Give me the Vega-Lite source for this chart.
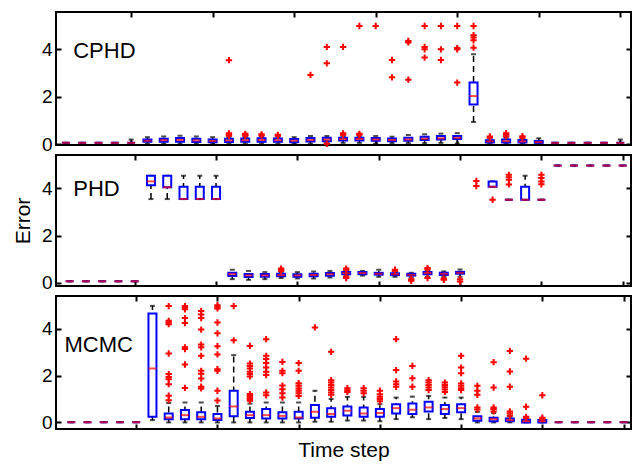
{
"$schema": "https://vega.github.io/schema/vega-lite/v6.json",
"padding": {"left": 11, "top": 10, "right": 4, "bottom": 4},
"spacing": 10,
"bounds": "flush",
"datasets": {
"stats": [
{"m":"CPHD","s":1,"lo":0.06,"q1":0.06,"md":0.06,"q3":0.06,"hi":0.06},
{"m":"CPHD","s":2,"lo":0.06,"q1":0.06,"md":0.06,"q3":0.06,"hi":0.06},
{"m":"CPHD","s":3,"lo":0.06,"q1":0.06,"md":0.06,"q3":0.06,"hi":0.06},
{"m":"CPHD","s":4,"lo":0.06,"q1":0.06,"md":0.06,"q3":0.06,"hi":0.06},
{"m":"CPHD","s":5,"lo":0.04,"q1":0.06,"md":0.06,"q3":0.06,"hi":0.2},
{"m":"CPHD","s":6,"lo":0.03,"q1":0.11,"md":0.15,"q3":0.2,"hi":0.3},
{"m":"CPHD","s":7,"lo":0.03,"q1":0.11,"md":0.17,"q3":0.23,"hi":0.33},
{"m":"CPHD","s":8,"lo":0.03,"q1":0.11,"md":0.18,"q3":0.26,"hi":0.36},
{"m":"CPHD","s":9,"lo":0.03,"q1":0.1,"md":0.16,"q3":0.23,"hi":0.33},
{"m":"CPHD","s":10,"lo":0.03,"q1":0.09,"md":0.14,"q3":0.2,"hi":0.3},
{"m":"CPHD","s":11,"lo":0.04,"q1":0.1,"md":0.16,"q3":0.23,"hi":0.3},
{"m":"CPHD","s":12,"lo":0.04,"q1":0.11,"md":0.17,"q3":0.24,"hi":0.3},
{"m":"CPHD","s":13,"lo":0.04,"q1":0.11,"md":0.18,"q3":0.25,"hi":0.31},
{"m":"CPHD","s":14,"lo":0.04,"q1":0.11,"md":0.17,"q3":0.24,"hi":0.3},
{"m":"CPHD","s":15,"lo":0.03,"q1":0.09,"md":0.15,"q3":0.22,"hi":0.3},
{"m":"CPHD","s":16,"lo":0.03,"q1":0.12,"md":0.18,"q3":0.26,"hi":0.35},
{"m":"CPHD","s":17,"lo":0.06,"q1":0.13,"md":0.2,"q3":0.28,"hi":0.35},
{"m":"CPHD","s":18,"lo":0.06,"q1":0.16,"md":0.22,"q3":0.28,"hi":0.35},
{"m":"CPHD","s":19,"lo":0.06,"q1":0.16,"md":0.22,"q3":0.28,"hi":0.35},
{"m":"CPHD","s":20,"lo":0.03,"q1":0.15,"md":0.2,"q3":0.27,"hi":0.35},
{"m":"CPHD","s":21,"lo":0.05,"q1":0.13,"md":0.18,"q3":0.24,"hi":0.32},
{"m":"CPHD","s":22,"lo":0.05,"q1":0.15,"md":0.2,"q3":0.28,"hi":0.39},
{"m":"CPHD","s":23,"lo":0.05,"q1":0.18,"md":0.23,"q3":0.32,"hi":0.42},
{"m":"CPHD","s":24,"lo":0.06,"q1":0.2,"md":0.25,"q3":0.35,"hi":0.45},
{"m":"CPHD","s":25,"lo":0.03,"q1":0.22,"md":0.27,"q3":0.35,"hi":0.47},
{"m":"CPHD","s":26,"lo":0.94,"q1":1.68,"md":2.03,"q3":2.6,"hi":3.79},
{"m":"CPHD","s":27,"lo":0.03,"q1":0.08,"md":0.12,"q3":0.17,"hi":0.24},
{"m":"CPHD","s":28,"lo":0.03,"q1":0.08,"md":0.13,"q3":0.2,"hi":0.28},
{"m":"CPHD","s":29,"lo":0.03,"q1":0.08,"md":0.12,"q3":0.18,"hi":0.25},
{"m":"CPHD","s":30,"lo":0.02,"q1":0.06,"md":0.09,"q3":0.14,"hi":0.25},
{"m":"CPHD","s":31,"lo":0.06,"q1":0.06,"md":0.06,"q3":0.06,"hi":0.06},
{"m":"CPHD","s":32,"lo":0.06,"q1":0.06,"md":0.06,"q3":0.06,"hi":0.06},
{"m":"CPHD","s":33,"lo":0.06,"q1":0.06,"md":0.06,"q3":0.06,"hi":0.06},
{"m":"CPHD","s":34,"lo":0.06,"q1":0.06,"md":0.06,"q3":0.06,"hi":0.06},
{"m":"CPHD","s":35,"lo":0.04,"q1":0.06,"md":0.06,"q3":0.06,"hi":0.2},
{"m":"PHD","s":1,"lo":0.06,"q1":0.06,"md":0.06,"q3":0.06,"hi":0.06},
{"m":"PHD","s":2,"lo":0.06,"q1":0.06,"md":0.06,"q3":0.06,"hi":0.06},
{"m":"PHD","s":3,"lo":0.06,"q1":0.06,"md":0.06,"q3":0.06,"hi":0.06},
{"m":"PHD","s":4,"lo":0.06,"q1":0.06,"md":0.06,"q3":0.06,"hi":0.06},
{"m":"PHD","s":5,"lo":0.06,"q1":0.06,"md":0.06,"q3":0.06,"hi":0.06},
{"m":"PHD","s":6,"lo":3.55,"q1":4.14,"md":4.3,"q3":4.54,"hi":4.54},
{"m":"PHD","s":7,"lo":3.55,"q1":4.05,"md":4.05,"q3":4.54,"hi":4.54},
{"m":"PHD","s":8,"lo":3.55,"q1":3.55,"md":3.55,"q3":4.07,"hi":4.54},
{"m":"PHD","s":9,"lo":3.55,"q1":3.55,"md":3.55,"q3":4.07,"hi":4.54},
{"m":"PHD","s":10,"lo":3.55,"q1":3.55,"md":3.55,"q3":4.07,"hi":4.54},
{"m":"PHD","s":11,"lo":0.15,"q1":0.28,"md":0.36,"q3":0.42,"hi":0.55},
{"m":"PHD","s":12,"lo":0.12,"q1":0.24,"md":0.31,"q3":0.37,"hi":0.5},
{"m":"PHD","s":13,"lo":0.15,"q1":0.25,"md":0.31,"q3":0.37,"hi":0.45},
{"m":"PHD","s":14,"lo":0.2,"q1":0.27,"md":0.32,"q3":0.38,"hi":0.45},
{"m":"PHD","s":15,"lo":0.18,"q1":0.25,"md":0.31,"q3":0.36,"hi":0.45},
{"m":"PHD","s":16,"lo":0.18,"q1":0.27,"md":0.33,"q3":0.38,"hi":0.48},
{"m":"PHD","s":17,"lo":0.22,"q1":0.3,"md":0.36,"q3":0.41,"hi":0.5},
{"m":"PHD","s":18,"lo":0.3,"q1":0.36,"md":0.41,"q3":0.45,"hi":0.5},
{"m":"PHD","s":19,"lo":0.3,"q1":0.36,"md":0.41,"q3":0.45,"hi":0.5},
{"m":"PHD","s":20,"lo":0.25,"q1":0.34,"md":0.38,"q3":0.42,"hi":0.55},
{"m":"PHD","s":21,"lo":0.25,"q1":0.32,"md":0.36,"q3":0.4,"hi":0.45},
{"m":"PHD","s":22,"lo":0.22,"q1":0.3,"md":0.33,"q3":0.38,"hi":0.42},
{"m":"PHD","s":23,"lo":0.25,"q1":0.36,"md":0.41,"q3":0.45,"hi":0.5},
{"m":"PHD","s":24,"lo":0.25,"q1":0.33,"md":0.38,"q3":0.42,"hi":0.48},
{"m":"PHD","s":25,"lo":0.25,"q1":0.38,"md":0.42,"q3":0.46,"hi":0.56},
{"m":"PHD","s":27,"lo":4.07,"q1":4.07,"md":4.07,"q3":4.3,"hi":4.3},
{"m":"PHD","s":28,"lo":3.52,"q1":3.52,"md":3.52,"q3":3.52,"hi":3.52},
{"m":"PHD","s":29,"lo":3.52,"q1":3.52,"md":3.52,"q3":4.07,"hi":4.54},
{"m":"PHD","s":30,"lo":3.52,"q1":3.52,"md":3.52,"q3":3.52,"hi":3.52},
{"m":"PHD","s":31,"lo":4.97,"q1":4.97,"md":4.97,"q3":4.97,"hi":4.97},
{"m":"PHD","s":32,"lo":4.97,"q1":4.97,"md":4.97,"q3":4.97,"hi":4.97},
{"m":"PHD","s":33,"lo":4.97,"q1":4.97,"md":4.97,"q3":4.97,"hi":4.97},
{"m":"PHD","s":34,"lo":4.97,"q1":4.97,"md":4.97,"q3":4.97,"hi":4.97},
{"m":"PHD","s":35,"lo":4.97,"q1":4.97,"md":4.97,"q3":4.97,"hi":4.97},
{"m":"MCMC","s":1,"lo":0.01,"q1":0.01,"md":0.01,"q3":0.01,"hi":0.01},
{"m":"MCMC","s":2,"lo":0.01,"q1":0.01,"md":0.01,"q3":0.01,"hi":0.01},
{"m":"MCMC","s":3,"lo":0.01,"q1":0.01,"md":0.01,"q3":0.01,"hi":0.01},
{"m":"MCMC","s":4,"lo":0.01,"q1":0.01,"md":0.01,"q3":0.01,"hi":0.01},
{"m":"MCMC","s":5,"lo":0.01,"q1":0.01,"md":0.01,"q3":0.01,"hi":0.01},
{"m":"MCMC","s":6,"lo":0.1,"q1":0.24,"md":2.3,"q3":4.64,"hi":4.97},
{"m":"MCMC","s":7,"lo":0.0,"q1":0.14,"md":0.21,"q3":0.38,"hi":0.83},
{"m":"MCMC","s":8,"lo":0.0,"q1":0.14,"md":0.31,"q3":0.53,"hi":0.85},
{"m":"MCMC","s":9,"lo":0.0,"q1":0.14,"md":0.24,"q3":0.43,"hi":0.85},
{"m":"MCMC","s":10,"lo":0.0,"q1":0.1,"md":0.17,"q3":0.36,"hi":0.7},
{"m":"MCMC","s":11,"lo":0.0,"q1":0.26,"md":0.68,"q3":1.35,"hi":2.87},
{"m":"MCMC","s":12,"lo":0.0,"q1":0.19,"md":0.31,"q3":0.46,"hi":0.8},
{"m":"MCMC","s":13,"lo":0.0,"q1":0.17,"md":0.31,"q3":0.57,"hi":0.85},
{"m":"MCMC","s":14,"lo":0.0,"q1":0.17,"md":0.28,"q3":0.43,"hi":0.85},
{"m":"MCMC","s":15,"lo":0.0,"q1":0.17,"md":0.21,"q3":0.46,"hi":0.85},
{"m":"MCMC","s":16,"lo":0.03,"q1":0.2,"md":0.46,"q3":0.74,"hi":1.35},
{"m":"MCMC","s":17,"lo":0.03,"q1":0.24,"md":0.36,"q3":0.6,"hi":1.0},
{"m":"MCMC","s":18,"lo":0.08,"q1":0.3,"md":0.5,"q3":0.68,"hi":1.09},
{"m":"MCMC","s":19,"lo":0.08,"q1":0.24,"md":0.38,"q3":0.64,"hi":1.09},
{"m":"MCMC","s":20,"lo":0.05,"q1":0.24,"md":0.4,"q3":0.57,"hi":0.78},
{"m":"MCMC","s":21,"lo":0.14,"q1":0.38,"md":0.61,"q3":0.78,"hi":1.06},
{"m":"MCMC","s":22,"lo":0.22,"q1":0.36,"md":0.54,"q3":0.81,"hi":1.1},
{"m":"MCMC","s":23,"lo":0.14,"q1":0.47,"md":0.64,"q3":0.88,"hi":1.13},
{"m":"MCMC","s":24,"lo":0.19,"q1":0.36,"md":0.57,"q3":0.74,"hi":1.06},
{"m":"MCMC","s":25,"lo":0.14,"q1":0.43,"md":0.61,"q3":0.78,"hi":1.06},
{"m":"MCMC","s":26,"lo":0.0,"q1":0.07,"md":0.17,"q3":0.26,"hi":0.45},
{"m":"MCMC","s":27,"lo":0.0,"q1":0.05,"md":0.14,"q3":0.2,"hi":0.4},
{"m":"MCMC","s":28,"lo":0.0,"q1":0.05,"md":0.1,"q3":0.17,"hi":0.25},
{"m":"MCMC","s":29,"lo":0.0,"q1":0.0,"md":0.05,"q3":0.11,"hi":0.15},
{"m":"MCMC","s":30,"lo":0.0,"q1":0.0,"md":0.05,"q3":0.1,"hi":0.12},
{"m":"MCMC","s":31,"lo":0.01,"q1":0.01,"md":0.01,"q3":0.01,"hi":0.01},
{"m":"MCMC","s":32,"lo":0.01,"q1":0.01,"md":0.01,"q3":0.01,"hi":0.01},
{"m":"MCMC","s":33,"lo":0.01,"q1":0.01,"md":0.01,"q3":0.01,"hi":0.01},
{"m":"MCMC","s":34,"lo":0.01,"q1":0.01,"md":0.01,"q3":0.01,"hi":0.01},
{"m":"MCMC","s":35,"lo":0.01,"q1":0.01,"md":0.01,"q3":0.01,"hi":0.01}
],
"out": [
{"m":"CPHD","s":11,"v":3.54},{"m":"CPHD","s":11,"v":0.36},{"m":"CPHD","s":11,"v":0.41},{"m":"CPHD","s":11,"v":0.46},
{"m":"CPHD","s":12,"v":0.36},{"m":"CPHD","s":12,"v":0.4},{"m":"CPHD","s":12,"v":0.44},
{"m":"CPHD","s":13,"v":0.37},{"m":"CPHD","s":13,"v":0.42},
{"m":"CPHD","s":14,"v":0.36},{"m":"CPHD","s":14,"v":0.4},
{"m":"CPHD","s":16,"v":2.92},
{"m":"CPHD","s":17,"v":4.1},{"m":"CPHD","s":17,"v":3.41},{"m":"CPHD","s":17,"v":0.02},
{"m":"CPHD","s":18,"v":4.1},{"m":"CPHD","s":18,"v":0.4},{"m":"CPHD","s":18,"v":0.46},
{"m":"CPHD","s":19,"v":4.98},{"m":"CPHD","s":19,"v":0.4},{"m":"CPHD","s":19,"v":0.44},
{"m":"CPHD","s":20,"v":4.98},
{"m":"CPHD","s":21,"v":3.55},{"m":"CPHD","s":21,"v":2.82},
{"m":"CPHD","s":22,"v":4.35},{"m":"CPHD","s":22,"v":4.29},{"m":"CPHD","s":22,"v":2.72},
{"m":"CPHD","s":23,"v":4.98},{"m":"CPHD","s":23,"v":4.1},{"m":"CPHD","s":23,"v":4.0},{"m":"CPHD","s":23,"v":3.65},
{"m":"CPHD","s":24,"v":4.98},{"m":"CPHD","s":24,"v":4.0},{"m":"CPHD","s":24,"v":3.55},
{"m":"CPHD","s":25,"v":4.98},{"m":"CPHD","s":25,"v":4.05},{"m":"CPHD","s":25,"v":4.0},{"m":"CPHD","s":25,"v":2.6},
{"m":"CPHD","s":26,"v":4.98},{"m":"CPHD","s":26,"v":4.59},{"m":"CPHD","s":26,"v":4.5},{"m":"CPHD","s":26,"v":4.38},{"m":"CPHD","s":26,"v":4.07},
{"m":"CPHD","s":27,"v":0.28},{"m":"CPHD","s":27,"v":0.33},
{"m":"CPHD","s":28,"v":0.33},{"m":"CPHD","s":28,"v":0.4},{"m":"CPHD","s":28,"v":0.47},
{"m":"CPHD","s":29,"v":0.28},{"m":"CPHD","s":29,"v":0.34},
{"m":"PHD","s":14,"v":0.5},{"m":"PHD","s":14,"v":0.55},{"m":"PHD","s":14,"v":0.6},
{"m":"PHD","s":18,"v":0.55},{"m":"PHD","s":18,"v":0.6},{"m":"PHD","s":18,"v":0.25},{"m":"PHD","s":18,"v":0.2},
{"m":"PHD","s":21,"v":0.5},{"m":"PHD","s":21,"v":0.55},
{"m":"PHD","s":22,"v":0.15},{"m":"PHD","s":22,"v":0.08},
{"m":"PHD","s":23,"v":0.56},{"m":"PHD","s":23,"v":0.62},{"m":"PHD","s":23,"v":0.2},
{"m":"PHD","s":24,"v":0.18},{"m":"PHD","s":24,"v":0.12},
{"m":"PHD","s":25,"v":0.15},{"m":"PHD","s":25,"v":0.05},
{"m":"PHD","s":26,"v":4.32},{"m":"PHD","s":26,"v":4.1},
{"m":"PHD","s":27,"v":3.52},
{"m":"PHD","s":28,"v":4.58},{"m":"PHD","s":28,"v":4.48},{"m":"PHD","s":28,"v":4.37},{"m":"PHD","s":28,"v":4.17},
{"m":"PHD","s":30,"v":4.58},{"m":"PHD","s":30,"v":4.44},{"m":"PHD","s":30,"v":4.3},{"m":"PHD","s":30,"v":4.18},
{"m":"MCMC","s":7,"v":4.96},{"m":"MCMC","s":7,"v":4.33},{"m":"MCMC","s":7,"v":4.26},{"m":"MCMC","s":7,"v":4.19},{"m":"MCMC","s":7,"v":2.94},{"m":"MCMC","s":7,"v":2.06},{"m":"MCMC","s":7,"v":1.94},{"m":"MCMC","s":7,"v":1.84},{"m":"MCMC","s":7,"v":1.63},{"m":"MCMC","s":7,"v":1.14},{"m":"MCMC","s":7,"v":0.95},
{"m":"MCMC","s":8,"v":4.96},{"m":"MCMC","s":8,"v":4.9},{"m":"MCMC","s":8,"v":4.82},{"m":"MCMC","s":8,"v":4.45},{"m":"MCMC","s":8,"v":4.24},{"m":"MCMC","s":8,"v":3.2},{"m":"MCMC","s":8,"v":3.13},{"m":"MCMC","s":8,"v":2.47},{"m":"MCMC","s":8,"v":1.47},
{"m":"MCMC","s":9,"v":4.75},{"m":"MCMC","s":9,"v":4.6},{"m":"MCMC","s":9,"v":4.45},{"m":"MCMC","s":9,"v":3.96},{"m":"MCMC","s":9,"v":3.32},{"m":"MCMC","s":9,"v":3.2},{"m":"MCMC","s":9,"v":2.84},{"m":"MCMC","s":9,"v":2.2},{"m":"MCMC","s":9,"v":2.08},{"m":"MCMC","s":9,"v":1.87},{"m":"MCMC","s":9,"v":1.52},{"m":"MCMC","s":9,"v":1.45},
{"m":"MCMC","s":10,"v":5.0},{"m":"MCMC","s":10,"v":4.93},{"m":"MCMC","s":10,"v":4.86},{"m":"MCMC","s":10,"v":4.26},{"m":"MCMC","s":10,"v":3.8},{"m":"MCMC","s":10,"v":3.25},{"m":"MCMC","s":10,"v":2.9},{"m":"MCMC","s":10,"v":2.27},{"m":"MCMC","s":10,"v":2.2},{"m":"MCMC","s":10,"v":1.35},{"m":"MCMC","s":10,"v":0.93},
{"m":"MCMC","s":11,"v":4.96},{"m":"MCMC","s":11,"v":3.5},
{"m":"MCMC","s":12,"v":3.26},{"m":"MCMC","s":12,"v":2.51},{"m":"MCMC","s":12,"v":2.41},{"m":"MCMC","s":12,"v":2.3},{"m":"MCMC","s":12,"v":2.16},{"m":"MCMC","s":12,"v":2.06},{"m":"MCMC","s":12,"v":1.96},{"m":"MCMC","s":12,"v":1.21},{"m":"MCMC","s":12,"v":1.14},{"m":"MCMC","s":12,"v":1.07},{"m":"MCMC","s":12,"v":1.0},{"m":"MCMC","s":12,"v":0.92},
{"m":"MCMC","s":13,"v":3.55},{"m":"MCMC","s":13,"v":2.84},{"m":"MCMC","s":13,"v":2.7},{"m":"MCMC","s":13,"v":2.53},{"m":"MCMC","s":13,"v":2.34},{"m":"MCMC","s":13,"v":2.16},{"m":"MCMC","s":13,"v":2.02},{"m":"MCMC","s":13,"v":1.28},{"m":"MCMC","s":13,"v":1.16},
{"m":"MCMC","s":14,"v":2.58},{"m":"MCMC","s":14,"v":2.2},{"m":"MCMC","s":14,"v":2.1},{"m":"MCMC","s":14,"v":1.57},{"m":"MCMC","s":14,"v":1.41},{"m":"MCMC","s":14,"v":1.24},{"m":"MCMC","s":14,"v":1.06},
{"m":"MCMC","s":15,"v":2.53},{"m":"MCMC","s":15,"v":2.2},{"m":"MCMC","s":15,"v":1.67},{"m":"MCMC","s":15,"v":1.56},{"m":"MCMC","s":15,"v":1.45},{"m":"MCMC","s":15,"v":1.35},{"m":"MCMC","s":15,"v":1.24},{"m":"MCMC","s":15,"v":1.13},
{"m":"MCMC","s":16,"v":4.05},
{"m":"MCMC","s":17,"v":3.01},{"m":"MCMC","s":17,"v":1.8},{"m":"MCMC","s":17,"v":1.7},{"m":"MCMC","s":17,"v":1.6},{"m":"MCMC","s":17,"v":1.49},{"m":"MCMC","s":17,"v":1.38},{"m":"MCMC","s":17,"v":1.28},{"m":"MCMC","s":17,"v":1.18},
{"m":"MCMC","s":18,"v":1.46},{"m":"MCMC","s":18,"v":1.37},{"m":"MCMC","s":18,"v":1.3},
{"m":"MCMC","s":19,"v":1.46},{"m":"MCMC","s":19,"v":1.35},{"m":"MCMC","s":19,"v":1.24},
{"m":"MCMC","s":20,"v":1.35},{"m":"MCMC","s":20,"v":1.2},{"m":"MCMC","s":20,"v":1.1},{"m":"MCMC","s":20,"v":1.0},{"m":"MCMC","s":20,"v":0.9},
{"m":"MCMC","s":21,"v":3.55},{"m":"MCMC","s":21,"v":2.23},{"m":"MCMC","s":21,"v":1.75},{"m":"MCMC","s":21,"v":1.63},{"m":"MCMC","s":21,"v":1.52},
{"m":"MCMC","s":22,"v":2.41},{"m":"MCMC","s":22,"v":1.88},{"m":"MCMC","s":22,"v":1.52},
{"m":"MCMC","s":23,"v":1.8},{"m":"MCMC","s":23,"v":1.7},{"m":"MCMC","s":23,"v":1.6},{"m":"MCMC","s":23,"v":1.49},{"m":"MCMC","s":23,"v":1.38},
{"m":"MCMC","s":24,"v":1.7},{"m":"MCMC","s":24,"v":1.6},{"m":"MCMC","s":24,"v":1.5},{"m":"MCMC","s":24,"v":1.4},{"m":"MCMC","s":24,"v":1.3},
{"m":"MCMC","s":25,"v":2.84},{"m":"MCMC","s":25,"v":2.34},{"m":"MCMC","s":25,"v":2.1},{"m":"MCMC","s":25,"v":1.66},{"m":"MCMC","s":25,"v":1.56},{"m":"MCMC","s":25,"v":1.46},{"m":"MCMC","s":25,"v":1.38},
{"m":"MCMC","s":26,"v":1.56},{"m":"MCMC","s":26,"v":1.35},{"m":"MCMC","s":26,"v":1.18},{"m":"MCMC","s":26,"v":0.64},{"m":"MCMC","s":26,"v":0.55},
{"m":"MCMC","s":27,"v":2.57},{"m":"MCMC","s":27,"v":1.49},{"m":"MCMC","s":27,"v":0.64},{"m":"MCMC","s":27,"v":0.57},{"m":"MCMC","s":27,"v":0.47},
{"m":"MCMC","s":28,"v":3.05},{"m":"MCMC","s":28,"v":2.17},{"m":"MCMC","s":28,"v":1.52},{"m":"MCMC","s":28,"v":0.47},{"m":"MCMC","s":28,"v":0.38},{"m":"MCMC","s":28,"v":0.28},
{"m":"MCMC","s":29,"v":2.72},{"m":"MCMC","s":29,"v":0.67},{"m":"MCMC","s":29,"v":0.24},{"m":"MCMC","s":29,"v":0.19},
{"m":"MCMC","s":30,"v":1.16},{"m":"MCMC","s":30,"v":0.2},{"m":"MCMC","s":30,"v":0.14}
]
},
"vconcat": [
{
"width": 575, "height": 133,
"layer": [
{"data": {"name": "stats"}, "transform": [{"filter": "datum.m == 'CPHD'"}],
 "mark": {"type": "rule", "color": "black", "strokeWidth": 1.5, "strokeDash": [6, 4]},
 "encoding": {
  "x": {"field": "s", "type": "quantitative", "scale": {"domain": [0.7, 35.35], "nice": false, "zero": false}, "axis": {"orient": "bottom", "values": [5,10,15,20,25,30,35], "labels": false, "tickSize": -5, "title": null}},
  "y": {"field": "lo", "type": "quantitative", "scale": {"domain": [-0.03, 5.57], "nice": false, "zero": false}, "axis": {"orient": "left", "values": [0,2,4], "tickSize": -5, "labelPadding": 9, "title": null}},
  "y2": {"field": "hi"}}},
{"data": {"name": "stats"}, "transform": [{"filter": "datum.m == 'CPHD'"}],
 "mark": {"type": "tick", "orient": "horizontal", "size": 5, "thickness": 2, "color": "black"},
 "encoding": {"x": {"field": "s", "type": "quantitative", "axis": null}, "y": {"field": "lo", "type": "quantitative", "axis": null}}},
{"data": {"name": "stats"}, "transform": [{"filter": "datum.m == 'CPHD'"}],
 "mark": {"type": "tick", "orient": "horizontal", "size": 5, "thickness": 2, "color": "black"},
 "encoding": {"x": {"field": "s", "type": "quantitative", "axis": null}, "y": {"field": "hi", "type": "quantitative", "axis": null}}},
{"data": {"name": "stats"}, "transform": [{"filter": "datum.m == 'CPHD'"}],
 "mark": {"type": "bar", "width": 8, "fill": "white", "stroke": "#0000ff", "strokeWidth": 2},
 "encoding": {
  "x": {"field": "s", "type": "quantitative", "axis": {"orient": "top", "values": [5,10,15,20,25,30,35], "labels": false, "tickSize": -5, "title": null}},
  "y": {"field": "q1", "type": "quantitative", "axis": {"orient": "right", "values": [0,2,4], "labels": false, "tickSize": -5, "title": null}},
  "y2": {"field": "q3"}}},
{"data": {"name": "stats"}, "transform": [{"filter": "datum.m == 'CPHD'"}],
 "mark": {"type": "tick", "orient": "horizontal", "size": 8, "thickness": 2, "color": "#ff0000"},
 "encoding": {"x": {"field": "s", "type": "quantitative", "axis": null}, "y": {"field": "md", "type": "quantitative", "axis": null}}},
{"data": {"name": "out"}, "transform": [{"filter": "datum.m == 'CPHD'"}],
 "mark": {"type": "point", "shape": "M-1,0L1,0M0,-1L0,1", "size": 40, "filled": false, "stroke": "#ff0000", "strokeWidth": 2, "opacity": 1},
 "encoding": {"x": {"field": "s", "type": "quantitative", "axis": null}, "y": {"field": "v", "type": "quantitative", "axis": null}}},
{"data": {"values": [{}]},
 "mark": {"type": "text", "align": "left", "baseline": "middle", "fontSize": 22, "font": "Liberation Sans", "color": "black"},
 "encoding": {"x": {"datum": 1.45, "type": "quantitative", "axis": null}, "y": {"datum": 3.93, "type": "quantitative", "axis": null}, "text": {"value": "CPHD"}}}
],
"resolve": {"axis": {"x": "independent", "y": "independent"}}
},
{
"width": 575, "height": 131,
"layer": [
{"data": {"name": "stats"}, "transform": [{"filter": "datum.m == 'PHD'"}],
 "mark": {"type": "rule", "color": "black", "strokeWidth": 1.5, "strokeDash": [6, 4]},
 "encoding": {
  "x": {"field": "s", "type": "quantitative", "scale": {"domain": [0.47, 35.2], "nice": false, "zero": false}, "axis": {"orient": "bottom", "values": [5,10,15,20,25,30,35], "labels": false, "tickSize": -5, "title": null}},
  "y": {"field": "lo", "type": "quantitative", "scale": {"domain": [-0.14, 5.42], "nice": false, "zero": false}, "axis": {"orient": "left", "values": [0,2,4], "tickSize": -5, "labelPadding": 9, "title": "Error", "titlePadding": 8}},
  "y2": {"field": "hi"}}},
{"data": {"name": "stats"}, "transform": [{"filter": "datum.m == 'PHD'"}],
 "mark": {"type": "tick", "orient": "horizontal", "size": 5, "thickness": 2, "color": "black"},
 "encoding": {"x": {"field": "s", "type": "quantitative", "axis": null}, "y": {"field": "lo", "type": "quantitative", "axis": null}}},
{"data": {"name": "stats"}, "transform": [{"filter": "datum.m == 'PHD'"}],
 "mark": {"type": "tick", "orient": "horizontal", "size": 5, "thickness": 2, "color": "black"},
 "encoding": {"x": {"field": "s", "type": "quantitative", "axis": null}, "y": {"field": "hi", "type": "quantitative", "axis": null}}},
{"data": {"name": "stats"}, "transform": [{"filter": "datum.m == 'PHD'"}],
 "mark": {"type": "bar", "width": 8, "fill": "white", "stroke": "#0000ff", "strokeWidth": 2},
 "encoding": {
  "x": {"field": "s", "type": "quantitative", "axis": {"orient": "top", "values": [5,10,15,20,25,30,35], "labels": false, "tickSize": -5, "title": null}},
  "y": {"field": "q1", "type": "quantitative", "axis": {"orient": "right", "values": [0,2,4], "labels": false, "tickSize": -5, "title": null}},
  "y2": {"field": "q3"}}},
{"data": {"name": "stats"}, "transform": [{"filter": "datum.m == 'PHD'"}],
 "mark": {"type": "tick", "orient": "horizontal", "size": 8, "thickness": 2, "color": "#ff0000"},
 "encoding": {"x": {"field": "s", "type": "quantitative", "axis": null}, "y": {"field": "md", "type": "quantitative", "axis": null}}},
{"data": {"name": "out"}, "transform": [{"filter": "datum.m == 'PHD'"}],
 "mark": {"type": "point", "shape": "M-1,0L1,0M0,-1L0,1", "size": 40, "filled": false, "stroke": "#ff0000", "strokeWidth": 2, "opacity": 1},
 "encoding": {"x": {"field": "s", "type": "quantitative", "axis": null}, "y": {"field": "v", "type": "quantitative", "axis": null}}},
{"data": {"values": [{}]},
 "mark": {"type": "text", "align": "left", "baseline": "middle", "fontSize": 22, "font": "Liberation Sans", "color": "black"},
 "encoding": {"x": {"datum": 1.22, "type": "quantitative", "axis": null}, "y": {"datum": 3.97, "type": "quantitative", "axis": null}, "text": {"value": "PHD"}}}
],
"resolve": {"axis": {"x": "independent", "y": "independent"}}
},
{
"width": 575, "height": 133,
"layer": [
{"data": {"name": "stats"}, "transform": [{"filter": "datum.m == 'MCMC'"}],
 "mark": {"type": "rule", "color": "black", "strokeWidth": 1.5, "strokeDash": [6, 4]},
 "encoding": {
  "x": {"field": "s", "type": "quantitative", "scale": {"domain": [0.37, 35.15], "nice": false, "zero": false}, "axis": {"orient": "bottom", "values": [5,10,15,20,25,30,35], "labels": false, "tickSize": -5, "title": "Time step", "titlePadding": 9}},
  "y": {"field": "lo", "type": "quantitative", "scale": {"domain": [-0.28, 5.39], "nice": false, "zero": false}, "axis": {"orient": "left", "values": [0,2,4], "tickSize": -5, "labelPadding": 9, "title": null}},
  "y2": {"field": "hi"}}},
{"data": {"name": "stats"}, "transform": [{"filter": "datum.m == 'MCMC'"}],
 "mark": {"type": "tick", "orient": "horizontal", "size": 5, "thickness": 2, "color": "black"},
 "encoding": {"x": {"field": "s", "type": "quantitative", "axis": null}, "y": {"field": "lo", "type": "quantitative", "axis": null}}},
{"data": {"name": "stats"}, "transform": [{"filter": "datum.m == 'MCMC'"}],
 "mark": {"type": "tick", "orient": "horizontal", "size": 5, "thickness": 2, "color": "black"},
 "encoding": {"x": {"field": "s", "type": "quantitative", "axis": null}, "y": {"field": "hi", "type": "quantitative", "axis": null}}},
{"data": {"name": "stats"}, "transform": [{"filter": "datum.m == 'MCMC'"}],
 "mark": {"type": "bar", "width": 8, "fill": "white", "stroke": "#0000ff", "strokeWidth": 2},
 "encoding": {
  "x": {"field": "s", "type": "quantitative", "axis": {"orient": "top", "values": [5,10,15,20,25,30,35], "labels": false, "tickSize": -5, "title": null}},
  "y": {"field": "q1", "type": "quantitative", "axis": {"orient": "right", "values": [0,2,4], "labels": false, "tickSize": -5, "title": null}},
  "y2": {"field": "q3"}}},
{"data": {"name": "stats"}, "transform": [{"filter": "datum.m == 'MCMC'"}],
 "mark": {"type": "tick", "orient": "horizontal", "size": 8, "thickness": 2, "color": "#ff0000"},
 "encoding": {"x": {"field": "s", "type": "quantitative", "axis": null}, "y": {"field": "md", "type": "quantitative", "axis": null}}},
{"data": {"name": "out"}, "transform": [{"filter": "datum.m == 'MCMC'"}],
 "mark": {"type": "point", "shape": "M-1,0L1,0M0,-1L0,1", "size": 40, "filled": false, "stroke": "#ff0000", "strokeWidth": 2, "opacity": 1},
 "encoding": {"x": {"field": "s", "type": "quantitative", "axis": null}, "y": {"field": "v", "type": "quantitative", "axis": null}}},
{"data": {"values": [{}]},
 "mark": {"type": "text", "align": "left", "baseline": "middle", "fontSize": 22, "font": "Liberation Sans", "color": "black"},
 "encoding": {"x": {"datum": 0.58, "type": "quantitative", "axis": null}, "y": {"datum": 3.29, "type": "quantitative", "axis": null}, "text": {"value": "MCMC"}}}
],
"resolve": {"axis": {"x": "independent", "y": "independent"}}
}
],
"config": {
 "background": "white",
 "view": {"stroke": "black", "strokeWidth": 2},
 "axis": {"domain": false, "grid": false, "tickColor": "black", "tickWidth": 2, "labelColor": "black", "titleColor": "black", "labelFont": "Liberation Sans", "titleFont": "Liberation Sans", "labelFontSize": 19, "titleFontSize": 21, "titleFontWeight": "normal"}
}
}
